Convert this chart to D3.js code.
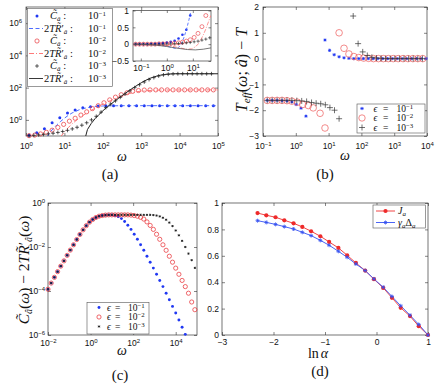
<!DOCTYPE html>
<html><head><meta charset="utf-8">
<script src="https://cdn.jsdelivr.net/npm/d3@7"></script>
<style>body{margin:0;background:#fff}svg{display:block}</style>
</head><body>
<svg id="fig" width="436" height="389"></svg>
<script>
// ================= DATA =================
// Panel (a) main: log10(omega), log10(value)
const aBlueDotW = [0.08,0.28,0.48,0.68,0.88,1.08,1.28,1.48,1.68,1.88,2.08,2.28,2.48,2.68,2.88,3.08,3.28,3.48,3.68,3.88,4.08,4.28,4.48,4.68,4.88];
const aBlueDotV = [-0.95,-0.8,-0.55,-0.18,0.13,0.42,0.62,0.75,0.82,0.86,0.875,0.88,0.88,0.88,0.88,0.88,0.88,0.88,0.88,0.88,0.88,0.88,0.88,0.88,0.88];
const aBlueDashW = [0.55,0.6,0.7,0.8,0.9,1.0,1.1,1.2,1.4,1.6,1.8,2.0,2.5,5.0];
const aBlueDashV = [-1.05,-0.85,-0.56,-0.32,-0.1,0.1,0.28,0.43,0.64,0.76,0.83,0.86,0.88,0.88];
const aRedCircW = [0.08,0.23,0.38,0.53,0.68,0.83,0.98,1.13,1.28,1.43,1.58,1.73,1.88,2.03,2.18,2.33,2.48,2.63,2.78,2.93,3.08,3.23,3.38,3.53,3.68,3.83,3.98,4.13,4.28,4.43,4.58,4.73,4.88];
const aRedCircV = [-0.98,-0.94,-0.87,-0.77,-0.64,-0.47,-0.28,-0.08,0.1,0.3,0.5,0.7,0.88,1.06,1.24,1.41,1.56,1.68,1.77,1.82,1.85,1.86,1.86,1.86,1.86,1.86,1.86,1.86,1.86,1.86,1.86,1.86,1.86];
const aRedDashDotW = [0.9,1.0,1.1,1.2,1.3,1.4,1.5,1.6,1.8,2.0,2.2,2.4,2.6,2.8,3.0,3.5,5.0];
const aRedDashDotV = [-1.05,-0.75,-0.48,-0.25,-0.05,0.13,0.3,0.45,0.73,0.98,1.2,1.4,1.57,1.7,1.79,1.85,1.86];
const aBlackPlusW = [0.08,0.205,0.33,0.455,0.58,0.705,0.83,0.955,1.08,1.205,1.33,1.455,1.58,1.705,1.83,1.955,2.08,2.205,2.33,2.455,2.58,2.705,2.83,2.955,3.08,3.205,3.33,3.455,3.58,3.705,3.83,3.955,4.08,4.205,4.33,4.455,4.58,4.705,4.83];
const aBlackPlusV = [-0.98,-0.96,-0.93,-0.9,-0.87,-0.83,-0.78,-0.72,-0.65,-0.56,-0.46,-0.33,-0.18,0.0,0.22,0.48,0.76,0.98,1.18,1.4,1.6,1.8,2.0,2.18,2.35,2.5,2.62,2.72,2.79,2.83,2.85,2.86,2.86,2.86,2.86,2.86,2.86,2.86,2.86];
const aBlackLineW = [1.55,1.6,1.7,1.8,1.9,2.0,2.1,2.2,2.3,2.4,2.5,2.6,2.7,2.8,2.9,3.0,3.1,3.2,3.3,3.4,3.5,3.6,3.7,3.85,4.0,5.0];
const aBlackLineV = [-1.05,-0.6,-0.22,0.08,0.33,0.56,0.77,0.96,1.14,1.32,1.5,1.67,1.84,2.0,2.15,2.3,2.43,2.55,2.64,2.71,2.77,2.81,2.84,2.86,2.86,2.86];
const aXTicks = [1,10,100,1000,1e4,1e5];
const aYTicks = [1,100,1e4,1e6];
const aLegendExp = [-1,-1,-2,-2,-3,-3];

// Panel (a) inset: log10(omega), linear value
const inBlueW = [-1.2,-1.05,-0.9,-0.75,-0.6,-0.45,-0.3,-0.15,0,0.15,0.3,0.45,0.6,0.75,0.9];
const inBlueV = [0,0,0,0,0.01,0.01,0.02,0.03,0.05,0.07,0.1,0.17,0.28,0.43,0.85];
const inRedW = [-1.2,-1.05,-0.9,-0.75,-0.6,-0.45,-0.3,-0.15,0,0.15,0.3,0.45,0.6,0.75,0.9,1.05,1.2,1.35,1.5];
const inRedV = [0,0,0,0,0,0,0.01,0.01,0.01,0.02,0.03,0.04,0.06,0.09,0.13,0.2,0.32,0.52,0.85];
const inBlackW = [-1.2,-1.05,-0.9,-0.75,-0.6,-0.45,-0.3,-0.15,0,0.15,0.3,0.45,0.6,0.75,0.9,1.05,1.2,1.35,1.5,1.65];
const inBlackV = [0,0,0,0,0,0,0,0,0.005,0.01,0.015,0.02,0.03,0.04,0.05,0.07,0.09,0.12,0.15,0.19];
const inBlueDashW = [-1.3,-0.6,-0.2,0,0.2,0.35,0.45,0.55,0.65,0.75,0.85,0.93];
const inBlueDashV = [0,-0.01,-0.03,-0.06,-0.1,-0.13,-0.1,0.0,0.18,0.42,0.72,1.0];
const inRedDashDotW = [-1.3,-0.3,0.2,0.5,0.75,0.95,1.1,1.2,1.3,1.4,1.5,1.6,1.69];
const inRedDashDotV = [0,-0.02,-0.06,-0.11,-0.15,-0.14,-0.08,0.0,0.12,0.27,0.45,0.66,0.85];
const inBlackLineW = [-1.3,-0.8,-0.4,0,0.4,0.8,1.1,1.4,1.7];
const inBlackLineV = [0,-0.01,-0.03,-0.07,-0.12,-0.16,-0.17,-0.15,-0.11];
const inXTicks = [0.1,1,10];
const inYTicks = [-0.5,0,0.5,1];

// Panel (b): log10(omega), T_eff - T
const bBlueW = [-0.87,-0.72,-0.57,-0.42,-0.27,-0.12,0.01,0.16,0.31,0.89,1.03,1.17,1.32,1.47,1.62,1.77,1.92,2.06,2.21,2.36,2.5,2.65,2.8,2.94,3.09,3.24,3.38,3.53,3.68,3.82,3.97];
const bBlueV = [-1.62,-1.62,-1.62,-1.63,-1.64,-1.68,-1.78,-1.92,-2.23,0.72,0.32,0.15,0.07,0.03,0.01,0,0,0,0,0,0,0,0,0,0,0,0,0,0,0,0];
const bRedW = [-0.87,-0.72,-0.57,-0.42,-0.27,-0.12,0.05,0.21,0.38,0.53,0.74,0.89,1.32,1.47,1.62,1.77,1.92,2.07,2.22,2.37,2.52,2.67,2.82,2.97,3.12,3.27,3.42,3.57,3.72,3.87];
const bRedV = [-1.62,-1.62,-1.62,-1.62,-1.63,-1.65,-1.69,-1.78,-1.82,-1.91,-2.12,-2.69,1.0,0.4,0.18,0.08,0.04,0.02,0.01,0,0,0,0,0,0,0,0,0,0,0];
const bBlackW = [-0.87,-0.72,-0.57,-0.42,-0.27,-0.12,0.03,0.18,0.33,0.48,0.62,0.76,0.9,1.04,1.18,1.32,1.75,1.9,2.04,2.18,2.32,2.46,2.6,2.74,2.88,3.02,3.16,3.3,3.44,3.58,3.72,3.86];
const bBlackV = [-1.62,-1.62,-1.62,-1.62,-1.62,-1.62,-1.63,-1.64,-1.66,-1.7,-1.73,-1.75,-1.79,-1.9,-2.0,-2.33,1.65,0.58,0.26,0.12,0.05,0.02,0.01,0,0,0,0,0,0,0,0,0];
const bXTicks = [0.1,1,10,100,1000,1e4];
const bYTicks = [-3,-2,-1,0,1,2];
const bLegendExp = [-1,-2,-3];

// Panel (c): log10(omega), log10(value)
const cRiseW = [-2.0,-1.85,-1.7,-1.55,-1.4,-1.25,-1.1,-0.95,-0.8,-0.65,-0.5,-0.35,-0.2,-0.05,0.1,0.25,0.4,0.55,0.7,0.85,1.0];
const cRiseV = [-3.92,-3.64,-3.38,-3.12,-2.87,-2.63,-2.38,-2.14,-1.9,-1.66,-1.43,-1.22,-1.03,-0.87,-0.75,-0.66,-0.6,-0.57,-0.55,-0.54,-0.54];
const cBlueTailW = [1.15,1.3,1.45,1.6,1.75,1.9,2.05,2.2,2.35,2.5,2.65,2.8,2.95,3.1,3.25,3.4,3.55,3.7,3.85,4.0,4.15,4.3,4.45];
const cBlueTailV = [-0.57,-0.62,-0.71,-0.84,-1.01,-1.2,-1.42,-1.65,-1.9,-2.15,-2.42,-2.69,-2.96,-3.24,-3.52,-3.8,-4.1,-4.4,-4.7,-5.0,-5.32,-5.65,-5.97];
const cRedTailW = [1.15,1.3,1.45,1.6,1.75,1.9,2.05,2.2,2.35,2.5,2.65,2.8,2.95,3.1,3.25,3.4,3.55,3.7,3.85,4.0,4.15,4.3,4.45,4.6,4.75,4.9];
const cRedTailV = [-0.54,-0.54,-0.54,-0.54,-0.54,-0.55,-0.57,-0.6,-0.65,-0.73,-0.86,-1.02,-1.2,-1.42,-1.65,-1.9,-2.15,-2.42,-2.69,-2.96,-3.24,-3.52,-3.8,-4.1,-4.5,-4.85];
const cBlackTailW = [1.15,1.3,1.45,1.6,1.75,1.9,2.05,2.2,2.35,2.5,2.65,2.8,2.95,3.1,3.25,3.4,3.55,3.7,3.85,4.0,4.15,4.3,4.45,4.6,4.75,4.9];
const cBlackTailV = [-0.54,-0.54,-0.54,-0.54,-0.54,-0.54,-0.54,-0.54,-0.54,-0.54,-0.54,-0.54,-0.55,-0.57,-0.61,-0.67,-0.76,-0.89,-1.05,-1.25,-1.47,-1.72,-2.0,-2.3,-2.6,-2.95];
const cXTicks = [0.01,1,100,1e4];
const cYTicks = [1e-6,1e-4,1e-2,1];
const cLegendExp = [-1,-2,-3];

// Panel (d): ln(alpha), J_a and gamma_a*Delta_a
const dLnAlpha = [-2.31,-2.14,-1.96,-1.79,-1.61,-1.44,-1.27,-1.09,-0.92,-0.74,-0.57,-0.4,-0.22,-0.05,0.13,0.3,0.47,0.65,0.82,1.0];
const dJ = [0.924,0.907,0.892,0.869,0.846,0.819,0.786,0.748,0.705,0.66,0.604,0.546,0.488,0.423,0.357,0.282,0.206,0.143,0.067,0.0];
const dGammaDelta = [0.866,0.853,0.838,0.821,0.803,0.778,0.753,0.717,0.68,0.634,0.589,0.538,0.488,0.425,0.362,0.292,0.221,0.15,0.08,0.0];
const dXTicks = [-3,-2,-1,0,1];
const dYTicks = [0,0.2,0.4,0.6,0.8,1];

// ================= DRAWING =================
const svg = d3.select("#fig");
const SANS = "'Liberation Sans', Arial, Helvetica, sans-serif";
const SERIF = "'Liberation Serif', 'Times New Roman', 'DejaVu Serif', serif";
const BLUE = "#2038f2", RED = "#e8343a", BLACK = "#1a1a1a";
const p10 = e => Math.pow(10, e);
const supStr = e => e < 0 ? "\u2212" + (-e) : String(e);
const zipLL = (xs, ys) => xs.map((x, i) => ({x: p10(x), y: p10(ys[i])}));
const zipLX = (xs, ys) => xs.map((x, i) => ({x: p10(x), y: ys[i]}));
const zipLin = (xs, ys) => xs.map((x, i) => ({x: x, y: ys[i]}));
const defs = svg.append("defs");
let clipN = 0;

function powLabel(sup) {
  return (t, d) => {
    const e = Math.round(Math.log10(d));
    t.text(null);
    t.append("tspan").text("10");
    t.append("tspan").attr("dy", "-0.55em").attr("font-size", sup).text(supStr(e));
  };
}
const linLabel = fmt => (t, d) => t.text(fmt(d));

function axesBox(box, sx, sy, o) {
  const g = svg.append("g");
  g.append("rect").attr("x", box.x0).attr("y", box.y0).attr("width", box.x1 - box.x0)
    .attr("height", box.y1 - box.y0).attr("fill", "#fff").attr("stroke", "#3a3a3a").attr("stroke-width", 0.7);
  const fs = o.fs || 8.5;
  const list = [
    {gen: d3.axisBottom(sx).tickValues(o.xt), tr: `translate(0,${box.y1})`, lab: o.xlab, pad: o.xpad},
    {gen: d3.axisTop(sx).tickValues(o.xt), tr: `translate(0,${box.y0})`},
    {gen: d3.axisLeft(sy).tickValues(o.yt), tr: `translate(${box.x0},0)`, lab: o.ylab, pad: o.ypad},
    {gen: d3.axisRight(sy).tickValues(o.yt), tr: `translate(${box.x1},0)`}
  ];
  list.forEach(a => {
    a.gen.tickSizeInner(-(o.tick || 3)).tickSizeOuter(0).tickPadding(a.pad || 3);
    const s = g.append("g").attr("transform", a.tr).call(a.gen);
    s.attr("font-size", fs).attr("font-family", SANS).attr("color", "#333");
    s.select(".domain").remove();
    s.selectAll(".tick line").attr("stroke-width", 0.6);
    if (a.lab) s.selectAll(".tick text").attr("fill", "#111").each(function (d) { a.lab(d3.select(this), d); });
    else s.selectAll(".tick text").remove();
  });
  const id = "clip" + (clipN++);
  defs.append("clipPath").attr("id", id).append("rect")
    .attr("x", box.x0).attr("y", box.y0).attr("width", box.x1 - box.x0).attr("height", box.y1 - box.y0);
  return {g: svg.append("g"), clip: `url(#${id})`};
}

function drawLine(g, data, sx, sy, color, width, dash, clip) {
  g.append("path").datum(data).attr("d", d3.line().x(d => sx(d.x)).y(d => sy(d.y)))
    .attr("fill", "none").attr("stroke", color).attr("stroke-width", width)
    .attr("stroke-dasharray", dash || null).attr("clip-path", clip);
}
function dots(g, data, sx, sy, r, color) {
  g.append("g").selectAll("circle").data(data).join("circle")
    .attr("cx", d => sx(d.x)).attr("cy", d => sy(d.y)).attr("r", r).attr("fill", color);
}
function rings(g, data, sx, sy, r, color, sw) {
  g.append("g").selectAll("circle").data(data).join("circle")
    .attr("cx", d => sx(d.x)).attr("cy", d => sy(d.y)).attr("r", r)
    .attr("fill", "none").attr("stroke", color).attr("stroke-width", sw);
}
function pluses(g, data, sx, sy, s, color, sw) {
  g.append("g").selectAll("path").data(data).join("path")
    .attr("d", d => { const x = sx(d.x), y = sy(d.y); return `M${x - s},${y}H${x + s}M${x},${y - s}V${y + s}`; })
    .attr("stroke", color).attr("stroke-width", sw).attr("fill", "none");
}
function starPath(x, y, s) {
  const k = s * 0.7;
  return `M${x - s},${y}H${x + s}M${x},${y - s}V${y + s}M${x - k},${y - k}L${x + k},${y + k}M${x - k},${y + k}L${x + k},${y - k}`;
}
function stars(g, data, sx, sy, s, color, sw) {
  g.append("g").selectAll("path").data(data).join("path")
    .attr("d", d => starPath(sx(d.x), sy(d.y), s))
    .attr("stroke", color).attr("stroke-width", sw).attr("fill", "none");
}
function serifText(x, y, size, anchor) {
  return svg.append("text").attr("x", x).attr("y", y).attr("font-family", SERIF)
    .attr("font-size", size).attr("text-anchor", anchor || "middle").attr("fill", "#111");
}
function ts(t, s, o) {
  const e = t.append("tspan").text(s);
  if (o) Object.keys(o).forEach(k => e.attr(k, o[k]));
  return e;
}
function epsLegendRow(x, y, fs, exp, offs) {
  serifText(x + offs[0], y, fs, "start").append("tspan").attr("font-style", "italic").text("\u03F5");
  serifText(x + offs[1], y, fs, "start").text("=");
  const t = serifText(x + offs[2], y, fs, "start");
  ts(t, "10"); ts(t, supStr(exp), {dy: "-0.45em", "font-size": fs * 0.72});
}

// ---------- Panel (a) ----------
{
  const box = {x0: 26, x1: 218, y0: 7, y1: 136};
  const sx = d3.scaleLog().domain([1, 1e5]).range([box.x0, box.x1]);
  const sy = d3.scaleLog().domain([1e-1, 1e7]).range([box.y1, box.y0]);
  const A = axesBox(box, sx, sy, {xt: aXTicks, yt: aYTicks, xlab: powLabel(6), ylab: powLabel(6), xpad: 7, ypad: 4});
  const g = A.g;
  dots(g, zipLL(aBlueDotW, aBlueDotV), sx, sy, 1.5, BLUE);
  drawLine(g, zipLL(aBlueDashW, aBlueDashV), sx, sy, "#3a5cff", 0.9, "4,2.5", A.clip);
  rings(g, zipLL(aRedCircW, aRedCircV), sx, sy, 2.1, RED, 0.7);
  drawLine(g, zipLL(aRedDashDotW, aRedDashDotV), sx, sy, "#ff6a6a", 0.9, "5,2,1,2", A.clip);
  pluses(g, zipLL(aBlackPlusW, aBlackPlusV), sx, sy, 1.9, BLACK, 0.7);
  drawLine(g, zipLL(aBlackLineW, aBlackLineV), sx, sy, "#222", 1, null, A.clip);

  // legend
  const lg = svg.append("g");
  lg.append("rect").attr("x", 27.5).attr("y", 8.5).attr("width", 85).attr("height", 78)
    .attr("fill", "#fff").attr("stroke", "#555").attr("stroke-width", 0.6);
  const rows = [16, 28.5, 41, 53.5, 66, 78.5];
  const colors = [BLUE, "#3a5cff", RED, "#ff6a6a", BLACK, "#222"];
  const LF = 10.5;
  rows.forEach((ry, i) => {
    const isLine = i % 2 === 1;
    if (!isLine) {
      if (i === 0) lg.append("circle").attr("cx", 37).attr("cy", ry).attr("r", 1.5).attr("fill", BLUE);
      if (i === 2) lg.append("circle").attr("cx", 37).attr("cy", ry).attr("r", 2.1).attr("fill", "none").attr("stroke", RED).attr("stroke-width", 0.7);
      if (i === 4) lg.append("path").attr("d", `M35.1,${ry}H38.9M37,${ry - 1.9}V${ry + 1.9}`).attr("stroke", BLACK).attr("stroke-width", 0.7);
      const t = serifText(50, ry + 3, LF, "start");
      ts(t, "C\u0303", {"font-style": "italic"});
      ts(t, "\u00E2", {"font-size": 7, dy: 2, "font-style": "italic"});
      ts(t, " :", {dy: -2});
    } else {
      const dash = i === 1 ? "4,2.5" : (i === 3 ? "5,2,1,2" : null);
      lg.append("line").attr("x1", 29).attr("x2", 43).attr("y1", ry).attr("y2", ry)
        .attr("stroke", colors[i]).attr("stroke-width", 0.9).attr("stroke-dasharray", dash);
      const t = serifText(44, ry + 3, LF, "start");
      ts(t, "2");
      ts(t, "T", {"font-style": "italic"});
      ts(t, "R\u0303", {"font-style": "italic"});
      ts(t, "\u2032");
      ts(t, "\u00E2", {"font-size": 7, dy: 2, "font-style": "italic"});
      ts(t, " :", {dy: -2});
    }
    const v = serifText(88, ry + 3, LF, "start");
    ts(v, "10"); ts(v, supStr(aLegendExp[i]), {dy: "-0.4em", "font-size": 7});
  });

  // inset
  const ib = {x0: 133, x1: 211, y0: 10.5, y1: 61};
  const ix = d3.scaleLog().domain([0.05, 50]).range([ib.x0, ib.x1]);
  const iy = d3.scaleLinear().domain([-0.5, 1]).range([ib.y1, ib.y0]);
  const I = axesBox(ib, ix, iy, {xt: inXTicks, yt: inYTicks, xlab: powLabel(6), ylab: linLabel(d3.format("~g")), xpad: 4, ypad: 4, fs: 8.5, tick: 2.5});
  const ig = I.g;
  dots(ig, zipLX(inBlueW, inBlueV), ix, iy, 1.3, BLUE);
  drawLine(ig, zipLX(inBlueDashW, inBlueDashV), ix, iy, "#3a5cff", 0.8, "3,2", I.clip);
  rings(ig, zipLX(inRedW, inRedV), ix, iy, 2, RED, 0.6);
  drawLine(ig, zipLX(inRedDashDotW, inRedDashDotV), ix, iy, "#ff7a7a", 0.8, "4,1.5,1,1.5", I.clip);
  pluses(ig, zipLX(inBlackW, inBlackV), ix, iy, 1.6, BLACK, 0.6);
  drawLine(ig, zipLX(inBlackLineW, inBlackLineV), ix, iy, "#555", 0.8, null, I.clip);

  serifText(122, 161, 14).attr("font-style", "italic").text("\u03C9");
  serifText(110, 179, 15).text("(a)");
}

// ---------- Panel (b) ----------
{
  const box = {x0: 263, x1: 427, y0: 7, y1: 136};
  const sx = d3.scaleLog().domain([0.1, 1e4]).range([box.x0, box.x1]);
  const sy = d3.scaleLinear().domain([-3, 2]).range([box.y1, box.y0]);
  const B = axesBox(box, sx, sy, {xt: bXTicks, yt: bYTicks, xlab: powLabel(6), ylab: linLabel(d3.format("d")), xpad: 7, ypad: 4});
  const g = B.g;
  stars(g, zipLX(bBlueW, bBlueV), sx, sy, 1.6, BLUE, 0.9);
  rings(g, zipLX(bRedW, bRedV), sx, sy, 3.3, "#ee5a5a", 0.7);
  pluses(g, zipLX(bBlackW, bBlackV), sx, sy, 3, "#333", 0.7);

  const lg = svg.append("g");
  lg.append("rect").attr("x", 357).attr("y", 104).attr("width", 68).attr("height", 29)
    .attr("fill", "#fff").attr("stroke", "#555").attr("stroke-width", 0.6);
  const rows = [108.5, 118, 127.5];
  lg.append("path").attr("d", starPath(362, rows[0], 1.6)).attr("stroke", BLUE).attr("stroke-width", 0.9);
  lg.append("circle").attr("cx", 362).attr("cy", rows[1]).attr("r", 3.2).attr("fill", "none").attr("stroke", "#ee5a5a").attr("stroke-width", 0.7);
  lg.append("path").attr("d", `M359,${rows[2]}H365M362,${rows[2] - 3}V${rows[2] + 3}`).attr("stroke", "#333").attr("stroke-width", 0.7);
  rows.forEach((ry, i) => epsLegendRow(373.5, ry + 3.2, 9.5, bLegendExp[i], [0, 9.5, 23]));

  const yl = svg.append("text").attr("transform", "translate(247,70) rotate(-90)")
    .attr("font-family", SERIF).attr("font-size", 16).attr("text-anchor", "middle").attr("fill", "#111");
  ts(yl, "T", {"font-style": "italic"});
  ts(yl, "eff", {"font-style": "italic", "font-size": 11, dy: 3});
  ts(yl, "(", {dy: -3});
  ts(yl, "\u03C9", {"font-style": "italic"});
  ts(yl, "; ");
  ts(yl, "\u00E2", {"font-style": "italic"});
  ts(yl, ") \u2212 ");
  ts(yl, "T", {"font-style": "italic"});

  serifText(345, 160, 14).attr("font-style", "italic").text("\u03C9");
  serifText(325, 179, 15).text("(b)");
}

// ---------- Panel (c) ----------
{
  const box = {x0: 48, x1: 197, y0: 203, y1: 335};
  const sx = d3.scaleLog().domain([1e-2, 1e5]).range([box.x0, box.x1]);
  const sy = d3.scaleLog().domain([1e-6, 1]).range([box.y1, box.y0]);
  const C = axesBox(box, sx, sy, {xt: cXTicks, yt: cYTicks, xlab: powLabel(6), ylab: powLabel(6), xpad: 5, ypad: 3});
  const g = C.g;
  dots(g, zipLL(cRiseW.concat(cBlueTailW), cRiseV.concat(cBlueTailV)), sx, sy, 1.45, BLUE);
  rings(g, zipLL(cRiseW.concat(cRedTailW), cRiseV.concat(cRedTailV)), sx, sy, 2.1, RED, 0.75);
  stars(g, zipLL(cRiseW.concat(cBlackTailW), cRiseV.concat(cBlackTailV)), sx, sy, 1.1, "#222", 0.8);

  const lg = svg.append("g");
  lg.append("rect").attr("x", 87).attr("y", 302.5).attr("width", 62).attr("height", 31.5)
    .attr("fill", "#fff").attr("stroke", "#555").attr("stroke-width", 0.6);
  const rows = [307.5, 317, 326.5];
  lg.append("circle").attr("cx", 99).attr("cy", rows[0]).attr("r", 1.45).attr("fill", BLUE);
  lg.append("circle").attr("cx", 99).attr("cy", rows[1]).attr("r", 2.1).attr("fill", "none").attr("stroke", RED).attr("stroke-width", 0.75);
  lg.append("path").attr("d", starPath(99, rows[2], 1.1)).attr("stroke", "#222").attr("stroke-width", 0.8);
  rows.forEach((ry, i) => epsLegendRow(107, ry + 3.3, 9.5, cLegendExp[i], [0, 8, 21]));

  const yl = svg.append("text").attr("transform", "translate(29,270) rotate(-90)")
    .attr("font-family", SERIF).attr("font-size", 15.5).attr("text-anchor", "middle").attr("fill", "#111");
  ts(yl, "C\u0303", {"font-style": "italic"});
  ts(yl, "\u00E2", {"font-style": "italic", "font-size": 10, dy: 3});
  ts(yl, "(", {dy: -3});
  ts(yl, "\u03C9", {"font-style": "italic"});
  ts(yl, ") \u2212 2");
  ts(yl, "T", {"font-style": "italic"});
  ts(yl, "R\u0303", {"font-style": "italic"});
  ts(yl, "\u2032");
  ts(yl, "\u00E2", {"font-style": "italic", "font-size": 10, dy: 3});
  ts(yl, "(", {dy: -3});
  ts(yl, "\u03C9", {"font-style": "italic"});
  ts(yl, ")");

  serifText(122, 355, 14).attr("font-style", "italic").text("\u03C9");
  serifText(120, 380, 15).text("(c)");
}

// ---------- Panel (d) ----------
{
  const box = {x0: 222, x1: 428, y0: 203, y1: 335};
  const sx = d3.scaleLinear().domain([-3, 1]).range([box.x0, box.x1]);
  const sy = d3.scaleLinear().domain([0, 1]).range([box.y1, box.y0]);
  const D = axesBox(box, sx, sy, {xt: dXTicks, yt: dYTicks, xlab: linLabel(d3.format("d")), ylab: linLabel(d3.format("~g")), xpad: 4, ypad: 3});
  const g = D.g;
  const jd = zipLin(dLnAlpha, dJ), gd = zipLin(dLnAlpha, dGammaDelta);
  drawLine(g, jd, sx, sy, "#f24444", 1, null, null);
  drawLine(g, gd, sx, sy, "#4a64f5", 1, null, null);
  dots(g, jd, sx, sy, 2.1, "#ee2a2a");
  stars(g, gd, sx, sy, 2, "#3550f0", 0.8);

  const lg = svg.append("g");
  lg.append("rect").attr("x", 373).attr("y", 205).attr("width", 52.5).attr("height", 23)
    .attr("fill", "#fff").attr("stroke", "#555").attr("stroke-width", 0.6);
  lg.append("line").attr("x1", 376).attr("x2", 395).attr("y1", 211).attr("y2", 211).attr("stroke", "#f24444").attr("stroke-width", 1);
  lg.append("circle").attr("cx", 385.5).attr("cy", 211).attr("r", 2.1).attr("fill", "#ee2a2a");
  lg.append("line").attr("x1", 376).attr("x2", 395).attr("y1", 222.5).attr("y2", 222.5).attr("stroke", "#4a64f5").attr("stroke-width", 1);
  lg.append("path").attr("d", starPath(385.5, 222.5, 2)).attr("stroke", "#3550f0").attr("stroke-width", 0.8);
  const t1 = serifText(398, 214, 10, "start");
  ts(t1, "J", {"font-style": "italic"}); ts(t1, "a", {"font-style": "italic", "font-size": 7, dy: 2});
  const t2 = serifText(398, 225.5, 10, "start");
  ts(t2, "\u03B3", {"font-style": "italic"}); ts(t2, "a", {"font-style": "italic", "font-size": 7, dy: 2});
  ts(t2, "\u0394", {dy: -2}); ts(t2, "a", {"font-style": "italic", "font-size": 7, dy: 2});

  const xl = serifText(318, 358, 14);
  ts(xl, "ln"); ts(xl, "\u03B1", {"font-style": "italic", dx: 2});
  serifText(320, 376, 15).text("(d)");
}
</script>
</body></html>
